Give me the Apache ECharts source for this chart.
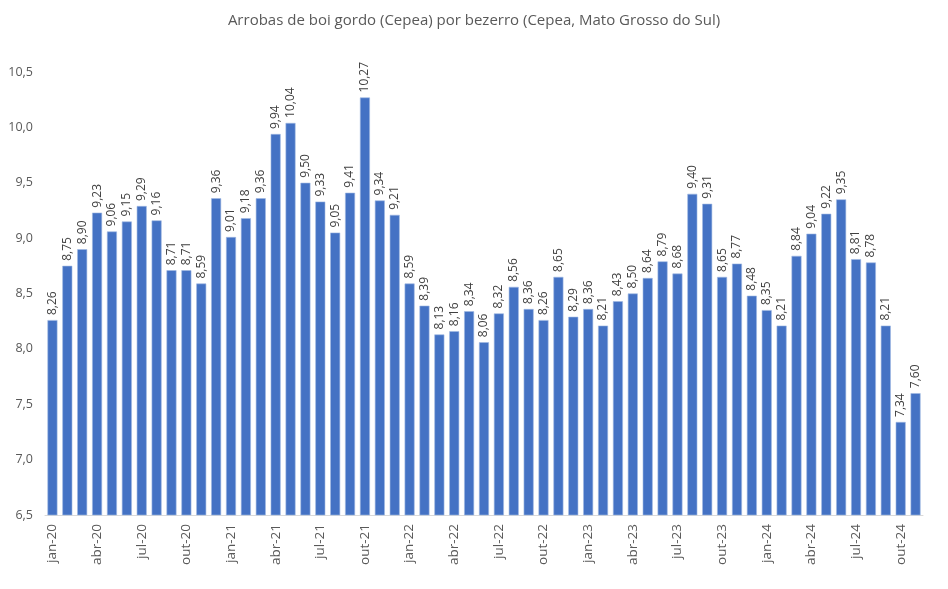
<!DOCTYPE html>
<html>
<head>
<meta charset="utf-8">
<script src="https://cdn.jsdelivr.net/npm/echarts@6/dist/echarts.min.js"></script>
<style>html,body{margin:0;padding:0;background:#fff}#c{width:948px;height:589px}</style>
</head>
<body>
<div id="c"></div>
<script>
const categories = [
 'jan-20','fev-20','mar-20','abr-20','mai-20','jun-20','jul-20','ago-20','set-20','out-20','nov-20','dez-20',
 'jan-21','fev-21','mar-21','abr-21','mai-21','jun-21','jul-21','ago-21','set-21','out-21','nov-21','dez-21',
 'jan-22','fev-22','mar-22','abr-22','mai-22','jun-22','jul-22','ago-22','set-22','out-22','nov-22','dez-22',
 'jan-23','fev-23','mar-23','abr-23','mai-23','jun-23','jul-23','ago-23','set-23','out-23','nov-23','dez-23',
 'jan-24','fev-24','mar-24','abr-24','mai-24','jun-24','jul-24','ago-24','set-24','out-24','nov-24'
];
const values = [
 8.26,8.75,8.90,9.23,9.06,9.15,9.29,9.16,8.71,8.71,8.59,9.36,
 9.01,9.18,9.36,9.94,10.04,9.50,9.33,9.05,9.41,10.27,9.34,9.21,
 8.59,8.39,8.13,8.16,8.34,8.06,8.32,8.56,8.36,8.26,8.65,8.29,
 8.36,8.21,8.43,8.50,8.64,8.79,8.68,9.40,9.31,8.65,8.77,8.48,
 8.35,8.21,8.84,9.04,9.22,9.35,8.81,8.78,8.21,7.34,7.60
];
const yTicks = {min: 6.5, max: 10.5, interval: 0.5};
const title = 'Arrobas de boi gordo (Cepea) por bezerro (Cepea, Mato Grosso do Sul)';

const FONT = '"Open Sans", Lato, sans-serif';
const chart = echarts.init(document.getElementById('c'), null, {renderer: 'canvas'});
chart.setOption({
  animation: false,
  backgroundColor: '#ffffff',
  title: {
    text: title, left: 'center', top: 8,
    textStyle: {fontFamily: FONT, fontSize: 15, fontWeight: 'normal', color: '#595959'}
  },
  grid: {left: 45, right: 25, top: 72, bottom: 74},
  xAxis: {
    type: 'category', data: categories,
    axisLine: {lineStyle: {color: '#d9d9d9'}},
    axisTick: {show: false},
    axisLabel: {interval: 2, rotate: 90, margin: 9, color: '#595959', fontFamily: FONT, fontSize: 13.5}
  },
  yAxis: {
    type: 'value', min: yTicks.min, max: yTicks.max, interval: yTicks.interval,
    splitLine: {show: false},
    axisLine: {show: false}, axisTick: {show: false},
    axisLabel: {color: '#595959', fontFamily: FONT, fontSize: 12.5, margin: 12,
      formatter: v => v.toFixed(1).replace('.', ',')}
  },
  series: [{
    type: 'bar', data: values, barCategoryGap: '33%',
    itemStyle: {color: '#4472C4', borderColor: '#9fb8e3', borderWidth: 0.6},
    label: {
      show: true, position: 'top', rotate: 90, align: 'left', verticalAlign: 'middle', distance: 5,
      color: '#404040', fontFamily: FONT, fontSize: 12,
      formatter: p => p.value.toFixed(2).replace('.', ',')
    }
  }]
});
</script>
</body>
</html>
